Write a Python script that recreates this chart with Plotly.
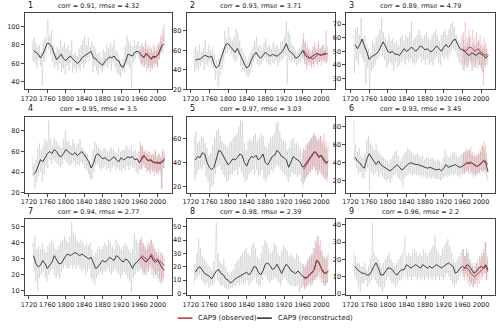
import plotly.graph_objects as go

# annual reconstruction (every 2nd year from 1727), smoothed (every 5 yrs from 1730)
# observed (every 2nd year from 1960), observed smoothed (every 4 yrs from 1962)
RAW_START, SMOOTH_START, OBS_START, OBS_SMOOTH_START = 1727, 1730, 1960, 1962

TITLES = ["corr = 0.91, rmse = 4.32", "corr = 0.93, rmse = 3.71", "corr = 0.89, rmse = 4.79",
          "corr = 0.95, rmse = 3.5", "corr = 0.97, rmse = 3.03", "corr = 0.93, rmse = 3.45",
          "corr = 0.94, rmse = 2.77", "corr = 0.98, rmse = 2.39", "corr = 0.96, rmse = 2.2"]

raw1 = [85, 62, 88, 60, 82, 55, 78, 64, 80, 58, 72, 36, 84, 62, 88, 70, 92, 108, 75, 90,
        70, 95, 62, 80, 55, 72, 58, 78, 52, 75, 60, 86, 50, 78, 55, 82, 48, 76, 58, 80,
        52, 74, 60, 85, 50, 70, 55, 72, 50, 68, 56, 76, 52, 80, 60, 85, 55, 90, 60, 80,
        66, 88, 62, 78, 72, 84, 50, 80, 58, 76, 52, 70, 48, 72, 55, 66, 50, 75, 55, 72,
        58, 80, 55, 76, 60, 82, 52, 78, 62, 86, 56, 74, 50, 72, 48, 64, 45, 60, 52, 66,
        50, 78, 60, 90, 58, 84, 55, 80, 33, 78, 62, 85, 65, 80, 70, 84, 65, 78, 58, 80,
        60, 78, 56, 82, 62, 75, 55, 80, 58, 76, 55, 72, 60, 78, 58, 74, 56, 80, 64, 84,
        70, 88, 72, 102, 78]
smooth1 = [74, 72, 70, 66, 70, 76, 82, 81, 77, 70, 64, 67, 70, 65, 63, 66, 68, 65, 62, 60,
           62, 66, 68, 70, 72, 73, 66, 65, 62, 60, 58, 62, 65, 67, 66, 68, 64, 63, 57, 56,
           62, 70, 69, 68, 72, 73, 72, 68, 67, 70, 68, 65, 68, 67, 69, 75, 80]
obs1 = [66, 74, 60, 82, 56, 76, 58, 84, 52, 78, 55, 72, 50, 76, 54, 80, 56, 74, 60, 78,
        56, 82, 66, 90, 74, 96, 84, 92]
obs_smooth1 = [70, 68, 66, 71, 70, 66, 64, 67, 66, 68, 70, 76, 80, 81]

raw2 = [62, 38, 64, 42, 60, 40, 66, 44, 58, 48, 62, 40, 70, 46, 58, 44, 66, 48, 60, 44,
        64, 42, 56, 30, 50, 35, 23, 52, 34, 56, 40, 62, 48, 80, 56, 72, 58, 84, 60, 74,
        56, 70, 52, 74, 48, 82, 50, 78, 54, 70, 44, 62, 40, 58, 38, 54, 34, 50, 32, 54,
        36, 58, 42, 64, 48, 70, 52, 74, 46, 64, 44, 66, 46, 60, 50, 68, 52, 72, 48, 64,
        46, 66, 44, 62, 48, 68, 46, 64, 50, 66, 44, 62, 48, 68, 50, 70, 52, 74, 55, 90,
        26, 80, 50, 76, 48, 66, 50, 64, 48, 60, 44, 58, 46, 62, 48, 66, 52, 72, 50, 68,
        46, 62, 44, 60, 48, 56, 42, 60, 46, 64, 48, 62, 46, 66, 48, 62, 50, 64, 48, 66,
        50, 62, 48, 64, 52]
smooth2 = [50, 51, 51, 53, 55, 54, 53, 54, 46, 42, 44, 52, 60, 66, 67, 64, 60, 58, 62, 56,
           52, 46, 42, 44, 50, 55, 58, 54, 52, 55, 58, 56, 54, 56, 55, 54, 56, 58, 62, 67,
           60, 58, 56, 52, 53, 56, 60, 55, 53, 52, 54, 55, 57, 56, 55, 56, 56]
obs2 = [52, 78, 46, 70, 40, 66, 48, 62, 44, 60, 46, 64, 42, 68, 50, 58, 44, 70, 48, 62,
        44, 66, 50, 60, 46, 80, 48, 58]
obs_smooth2 = [60, 57, 55, 53, 52, 51, 53, 55, 56, 55, 56, 57, 57, 56]

raw3 = [62, 34, 66, 44, 68, 40, 62, 48, 75, 45, 60, 42, 62, 26, 56, 38, 52, 23, 48, 36,
        58, 38, 56, 40, 60, 44, 62, 46, 66, 50, 75, 46, 64, 44, 60, 38, 58, 40, 62, 42,
        58, 40, 60, 36, 56, 42, 58, 38, 54, 40, 60, 42, 62, 44, 58, 40, 62, 44, 60, 42,
        64, 44, 72, 42, 58, 40, 60, 42, 62, 44, 66, 46, 62, 42, 60, 44, 62, 40, 64, 44,
        60, 40, 58, 42, 62, 40, 64, 44, 66, 46, 62, 42, 58, 40, 62, 46, 64, 44, 66, 46,
        62, 44, 66, 48, 70, 50, 72, 52, 68, 50, 62, 46, 58, 42, 56, 40, 62, 36, 58, 40,
        54, 38, 56, 40, 60, 42, 52, 36, 56, 38, 54, 40, 56, 38, 58, 40, 54, 36, 52, 25,
        54, 38, 52, 40, 48]
smooth3 = [55, 52, 55, 59, 54, 50, 44, 46, 47, 48, 50, 54, 57, 54, 50, 49, 50, 48, 48, 47,
           50, 52, 50, 51, 53, 52, 50, 52, 54, 53, 51, 52, 50, 50, 52, 54, 52, 50, 53, 55,
           53, 55, 58, 59, 55, 52, 51, 50, 48, 47, 49, 48, 47, 49, 48, 47, 45, 47]
obs3 = [40, 64, 36, 72, 42, 60, 38, 66, 44, 62, 40, 66, 42, 60, 38, 64, 44, 58, 40, 62,
        38, 56, 34, 60, 40, 56, 44, 52]
obs_smooth3 = [52, 50, 51, 53, 53, 52, 50, 51, 52, 50, 49, 48, 47, 48]

raw4 = [55, 36, 48, 24, 52, 30, 64, 36, 68, 40, 62, 30, 66, 38, 72, 46, 70, 44, 90, 52,
        72, 48, 66, 52, 74, 50, 70, 48, 68, 46, 66, 44, 64, 48, 72, 52, 80, 50, 70, 48,
        70, 46, 66, 48, 72, 50, 68, 46, 64, 48, 68, 46, 72, 50, 64, 48, 62, 44, 60, 42,
        58, 38, 52, 34, 50, 32, 62, 40, 70, 46, 66, 48, 64, 44, 62, 42, 60, 44, 64, 46,
        62, 42, 60, 44, 62, 40, 64, 44, 62, 46, 60, 42, 58, 44, 64, 42, 60, 40, 62, 44,
        62, 42, 66, 46, 64, 42, 62, 46, 66, 44, 60, 44, 62, 40, 58, 38, 60, 42, 66, 44,
        64, 48, 60, 44, 58, 42, 60, 40, 56, 42, 58, 40, 56, 42, 60, 38, 54, 40, 58, 38,
        56, 24, 60, 44, 62]
smooth4 = [38, 40, 46, 52, 50, 54, 58, 60, 58, 62, 60, 56, 55, 58, 62, 60, 58, 57, 59, 56,
           58, 60, 57, 54, 50, 44, 48, 56, 58, 55, 53, 54, 52, 51, 53, 55, 52, 50, 54, 52,
           53, 55, 54, 55, 52, 53, 49, 52, 56, 53, 51, 52, 50, 49, 50, 48, 50, 52]
obs4 = [44, 70, 42, 66, 46, 60, 44, 62, 40, 58, 42, 60, 38, 56, 42, 58, 36, 62, 40, 56,
        38, 58, 42, 54, 24, 62, 44, 58]
obs_smooth4 = [50, 55, 56, 53, 51, 52, 50, 49, 50, 48, 49, 50, 51, 53]

raw5 = [62, 26, 66, 30, 56, 34, 58, 36, 62, 34, 60, 38, 56, 28, 52, 24, 46, 16, 48, 20,
        54, 22, 60, 30, 66, 36, 68, 38, 62, 34, 58, 30, 56, 28, 54, 24, 52, 26, 56, 30,
        58, 30, 60, 32, 62, 34, 64, 30, 70, 36, 75, 32, 74, 28, 56, 24, 50, 26, 58, 30,
        60, 32, 58, 34, 62, 30, 64, 34, 58, 28, 60, 30, 64, 34, 62, 26, 54, 24, 52, 28,
        56, 30, 60, 34, 62, 32, 64, 36, 72, 38, 74, 36, 66, 34, 60, 32, 58, 30, 56, 28,
        50, 24, 52, 28, 58, 32, 60, 30, 56, 30, 56, 28, 54, 30, 52, 24, 48, 22, 50, 26,
        54, 28, 56, 30, 58, 32, 60, 34, 64, 36, 62, 34, 58, 30, 60, 32, 62, 30, 58, 28,
        54, 26, 52, 28, 56]
smooth5 = [42, 45, 44, 48, 47, 40, 36, 34, 36, 44, 50, 49, 45, 42, 38, 40, 43, 42, 44, 47,
           46, 40, 37, 42, 45, 44, 46, 42, 44, 47, 40, 38, 41, 45, 46, 50, 48, 45, 44, 42,
           36, 40, 45, 43, 42, 40, 36, 38, 41, 43, 46, 49, 47, 44, 46, 43, 40, 41]
obs5 = [18, 52, 24, 50, 28, 56, 30, 58, 32, 60, 34, 62, 36, 64, 32, 60, 30, 58, 34, 62,
        30, 56, 28, 64, 26, 58, 24, 52]
obs_smooth5 = [34, 37, 40, 42, 44, 47, 49, 48, 45, 46, 44, 41, 39, 40]

raw6 = [87, 42, 60, 34, 52, 28, 56, 30, 48, 24, 46, 22, 50, 30, 66, 34, 70, 10, 62, 30,
        58, 26, 54, 28, 60, 30, 54, 24, 50, 28, 48, 24, 46, 22, 44, 20, 42, 22, 40, 18,
        44, 22, 48, 26, 52, 28, 54, 24, 48, 22, 42, 20, 46, 13, 50, 24, 52, 26, 56, 28,
        54, 28, 52, 26, 50, 28, 48, 26, 50, 26, 48, 26, 46, 24, 48, 26, 44, 24, 46, 22,
        46, 24, 44, 22, 46, 24, 44, 22, 42, 22, 44, 22, 42, 20, 40, 22, 46, 24, 54, 26,
        48, 24, 46, 26, 48, 28, 50, 26, 52, 28, 48, 26, 46, 24, 48, 26, 50, 28, 52, 28,
        54, 30, 52, 28, 54, 28, 50, 26, 48, 24, 46, 26, 48, 28, 50, 28, 52, 30, 60, 30,
        56, 28, 50, 24, 20]
smooth6 = [46, 42, 40, 36, 34, 44, 50, 46, 42, 38, 42, 38, 36, 34, 32, 31, 33, 36, 38, 35,
           32, 34, 37, 39, 40, 39, 38, 38, 37, 36, 35, 34, 35, 34, 33, 32, 33, 31, 34, 38,
           35, 36, 37, 38, 36, 35, 36, 38, 40, 39, 40, 38, 36, 37, 39, 42, 40, 30]
obs6 = [30, 50, 28, 52, 32, 56, 30, 54, 34, 58, 30, 52, 28, 50, 26, 48, 28, 50, 30, 54,
        32, 58, 30, 64, 32, 60, 26, 22]
obs_smooth6 = [37, 39, 40, 40, 41, 39, 37, 36, 37, 38, 40, 43, 42, 38]

raw7 = [38, 40, 22, 44, 16, 36, 10, 38, 18, 36, 20, 40, 22, 36, 18, 34, 16, 38, 20, 40,
        22, 42, 24, 40, 20, 36, 18, 36, 20, 38, 18, 40, 22, 42, 24, 44, 26, 42, 24, 40,
        24, 44, 26, 53, 24, 46, 26, 44, 24, 42, 26, 40, 24, 42, 22, 40, 24, 38, 20, 40,
        22, 38, 24, 40, 18, 36, 16, 32, 14, 34, 18, 36, 20, 38, 22, 36, 20, 38, 22, 40,
        22, 38, 24, 42, 22, 40, 20, 38, 22, 36, 24, 42, 22, 40, 20, 38, 18, 36, 20, 38,
        22, 40, 20, 38, 18, 36, 16, 34, 9, 36, 18, 46, 20, 42, 22, 40, 22, 42, 24, 44,
        20, 40, 22, 38, 20, 36, 22, 40, 24, 42, 20, 38, 18, 36, 20, 34, 18, 32, 16, 30,
        14, 34, 16, 30, 32]
smooth7 = [32, 27, 25, 26, 29, 27, 24, 26, 28, 32, 29, 27, 27, 30, 32, 33, 32, 33, 34, 33,
           32, 33, 32, 31, 30, 31, 27, 24, 25, 27, 29, 28, 29, 31, 30, 29, 32, 31, 29, 28,
           30, 29, 27, 24, 27, 28, 30, 31, 29, 28, 30, 32, 29, 28, 29, 26, 24, 23]
obs7 = [26, 42, 24, 40, 22, 38, 20, 36, 24, 40, 22, 38, 26, 42, 24, 40, 22, 36, 20, 34,
        22, 36, 18, 34, 16, 32, 18, 30]
obs_smooth7 = [30, 32, 31, 30, 29, 31, 33, 31, 29, 30, 29, 28, 27, 26]

raw8 = [6, 22, 10, 30, 12, 41, 14, 34, 10, 28, 8, 26, 6, 24, 8, 22, 4, 20, 6, 18,
        6, 24, 8, 32, 53, 10, 30, 8, 24, 6, 22, 6, 26, 4, 20, 4, 16, 3, 14, 4,
        16, 4, 18, 6, 22, 6, 24, 8, 26, 6, 28, 8, 30, 6, 32, 8, 34, 10, 30, 6,
        28, 8, 36, 10, 38, 12, 34, 8, 28, 6, 26, 6, 30, 10, 36, 14, 40, 12, 38, 10,
        34, 8, 30, 10, 32, 10, 38, 12, 36, 10, 30, 8, 28, 6, 32, 10, 36, 12, 34, 10,
        32, 8, 28, 6, 30, 6, 28, 6, 26, 5, 30, 6, 28, 1, 24, 4, 22, 6, 20, 4,
        22, 6, 26, 8, 28, 6, 30, 8, 34, 10, 40, 10, 43, 12, 36, 10, 32, 8, 28, 6,
        26, 6, 28, 8, 30]
smooth8 = [16, 19, 20, 17, 15, 14, 13, 11, 14, 17, 18, 15, 14, 11, 10, 8, 9, 11, 12, 13,
           14, 15, 16, 14, 16, 20, 20, 16, 14, 17, 22, 23, 21, 18, 19, 22, 18, 15, 19, 22,
           20, 17, 16, 15, 17, 15, 13, 12, 12, 14, 16, 18, 25, 23, 19, 16, 15, 17]
obs8 = [4, 22, 3, 20, 5, 24, 6, 26, 8, 28, 6, 30, 10, 34, 12, 38, 14, 43, 16, 40,
        12, 32, 8, 28, 6, 26, 8, 30]
obs_smooth8 = [12, 11, 12, 14, 15, 16, 20, 25, 24, 20, 17, 15, 15, 17]

raw9 = [25, 10, 22, 8, 18, 4, 18, 1, 16, 6, 16, 6, 18, 8, 14, 4, 16, 6, 20, 8,
        41, 10, 24, 8, 22, 6, 20, 4, 18, 4, 16, 1, 18, 4, 20, 8, 22, 10, 24, 8,
        20, 6, 18, 6, 16, 4, 18, 6, 20, 8, 22, 8, 24, 10, 26, 33, 10, 22, 8, 24,
        10, 22, 8, 24, 10, 26, 10, 24, 8, 22, 10, 24, 8, 22, 10, 26, 8, 24, 10, 22,
        8, 24, 10, 26, 8, 28, 10, 34, 8, 26, 10, 24, 8, 22, 10, 26, 8, 28, 10, 30,
        12, 32, 10, 28, 8, 24, 6, 20, 4, 18, 6, 20, 8, 22, 10, 24, 12, 26, 10, 22,
        12, 26, 10, 24, 8, 20, 6, 18, 4, 16, 6, 18, 8, 20, 10, 22, 12, 24, 10, 26,
        12, 30, 8, 22, 10]
smooth9 = [16, 14, 13, 12, 12, 11, 11, 13, 16, 18, 15, 11, 11, 13, 15, 15, 14, 12, 11, 13,
           14, 14, 17, 16, 15, 16, 17, 16, 15, 17, 16, 15, 16, 15, 16, 17, 16, 15, 16, 17,
           18, 17, 16, 12, 13, 15, 16, 15, 17, 16, 14, 12, 13, 15, 16, 15, 17, 14]
obs9 = [10, 26, 8, 22, 10, 24, 6, 20, 4, 18, 6, 16, 4, 14, 6, 18, 4, 16, 6, 20,
        8, 22, 10, 24, 12, 30, 8, 20]
obs_smooth9 = [14, 15, 15, 14, 12, 11, 10, 11, 12, 13, 14, 15, 16, 13]

RAW = [raw1, raw2, raw3, raw4, raw5, raw6, raw7, raw8, raw9]
SMOOTH = [smooth1, smooth2, smooth3, smooth4, smooth5, smooth6, smooth7, smooth8, smooth9]
OBS = [obs1, obs2, obs3, obs4, obs5, obs6, obs7, obs8, obs9]
OBS_SMOOTH = [obs_smooth1, obs_smooth2, obs_smooth3, obs_smooth4, obs_smooth5,
              obs_smooth6, obs_smooth7, obs_smooth8, obs_smooth9]

Y_RANGES = [[32, 114], [20, 98], [22, 78], [20, 94], [15, 78], [7, 91],
            [7.5, 55], [-1, 56], [-0.5, 43.5]]
Y_TICKS = [[40, 60, 80, 100], [20, 40, 60, 80], [30, 40, 50, 60, 70],
           [20, 40, 60, 80], [20, 40, 60], [20, 40, 60, 80],
           [10, 20, 30, 40, 50], [0, 10, 20, 30, 40, 50], [0, 10, 20, 30, 40]]
X_TICKS = [1720, 1760, 1800, 1840, 1880, 1920, 1960, 2000]

W, H = 500, 331
COLS = [(21, 169), (184, 334), (345, 495)]
ROWS = [(13.5, 90.5), (118, 195), (221.5, 298.5)]

GRAY = "rgba(150,150,150,0.36)"
BLACK = "#2b2b2b"
PINK = "rgba(215,60,75,0.24)"
RED = "#b8323c"
FONT = "DejaVu Sans"

fig = go.Figure()
annotations = []
for i in range(9):
    r, c = divmod(i, 3)
    ax = "" if i == 0 else str(i + 1)
    xa, ya = "x" + ax, "y" + ax

    yrs = list(range(RAW_START, RAW_START + 2 * len(RAW[i]), 2))
    fig.add_trace(go.Scatter(x=yrs, y=RAW[i], mode="lines", xaxis=xa, yaxis=ya,
                             line=dict(color=GRAY, width=0.7), showlegend=False, hoverinfo="skip"))
    yrs = list(range(OBS_START, OBS_START + 2 * len(OBS[i]), 2))
    fig.add_trace(go.Scatter(x=yrs, y=OBS[i], mode="lines", xaxis=xa, yaxis=ya,
                             line=dict(color=PINK, width=0.7), showlegend=False, hoverinfo="skip"))
    yrs = list(range(SMOOTH_START, SMOOTH_START + 5 * len(SMOOTH[i]), 5))
    fig.add_trace(go.Scatter(x=yrs, y=SMOOTH[i], mode="lines", xaxis=xa, yaxis=ya,
                             line=dict(color=BLACK, width=0.9), showlegend=False))
    yrs = list(range(OBS_SMOOTH_START, OBS_SMOOTH_START + 4 * len(OBS_SMOOTH[i]), 4))
    fig.add_trace(go.Scatter(x=yrs, y=OBS_SMOOTH[i], mode="lines", xaxis=xa, yaxis=ya,
                             line=dict(color=RED, width=0.9), showlegend=False))

    x0, x1 = COLS[c][0] / W, COLS[c][1] / W
    y0, y1 = 1 - ROWS[r][1] / H, 1 - ROWS[r][0] / H
    common = dict(showline=True, mirror=True, linecolor="#444", linewidth=0.8,
                  ticks="outside", ticklen=3, tickwidth=0.8, tickcolor="#444",
                  showgrid=False, zeroline=False, tickangle=0,
                  tickfont=dict(size=6.5, color="#222", family=FONT))
    fig.update_layout(**{
        "xaxis" + ax: dict(domain=[x0, x1], range=[1711, 2030], tickvals=X_TICKS,
                           anchor=ya, **common),
        "yaxis" + ax: dict(domain=[y0, y1], range=Y_RANGES[i], tickvals=Y_TICKS[i],
                           anchor=xa, **common),
    })
    annotations.append(dict(x=x0 + 0.002, y=y1 + 0.004, xref="paper", yref="paper",
                            text=str(i + 1), showarrow=False, xanchor="left", yanchor="bottom",
                            font=dict(size=8, color="#111", family=FONT)))
    annotations.append(dict(x=(x0 + x1) / 2, y=y1 + 0.004, xref="paper", yref="paper",
                            text=TITLES[i], showarrow=False, xanchor="center", yanchor="bottom",
                            font=dict(size=6.5, color="#222", family=FONT)))

# legend drawn at the bottom centre
legend_y = 1 - 322 / H
shapes = [
    dict(type="line", xref="paper", yref="paper", x0=175 / W, x1=190 / W, y0=legend_y, y1=legend_y,
         line=dict(color=RED, width=1.5)),
    dict(type="line", xref="paper", yref="paper", x0=255 / W, x1=270 / W, y0=legend_y, y1=legend_y,
         line=dict(color=BLACK, width=1.5)),
]
annotations.append(dict(x=194 / W, y=legend_y, xref="paper", yref="paper", text="CAP9 (observed)",
                        showarrow=False, xanchor="left", yanchor="middle",
                        font=dict(size=7, color="#222", family=FONT)))
annotations.append(dict(x=274 / W, y=legend_y, xref="paper", yref="paper", text="CAP9 (reconstructed)",
                        showarrow=False, xanchor="left", yanchor="middle",
                        font=dict(size=7, color="#222", family=FONT)))

fig.update_layout(width=W, height=H, margin=dict(l=0, r=0, t=0, b=0),
                  paper_bgcolor="white", plot_bgcolor="white",
                  annotations=annotations, shapes=shapes, showlegend=False,
                  font=dict(family=FONT, size=7))

# the page's default body margin would push the 500px figure out of the window
fig.write_html("out.html", config={"displayModeBar": False},
               post_script="document.body.style.margin='0';")
